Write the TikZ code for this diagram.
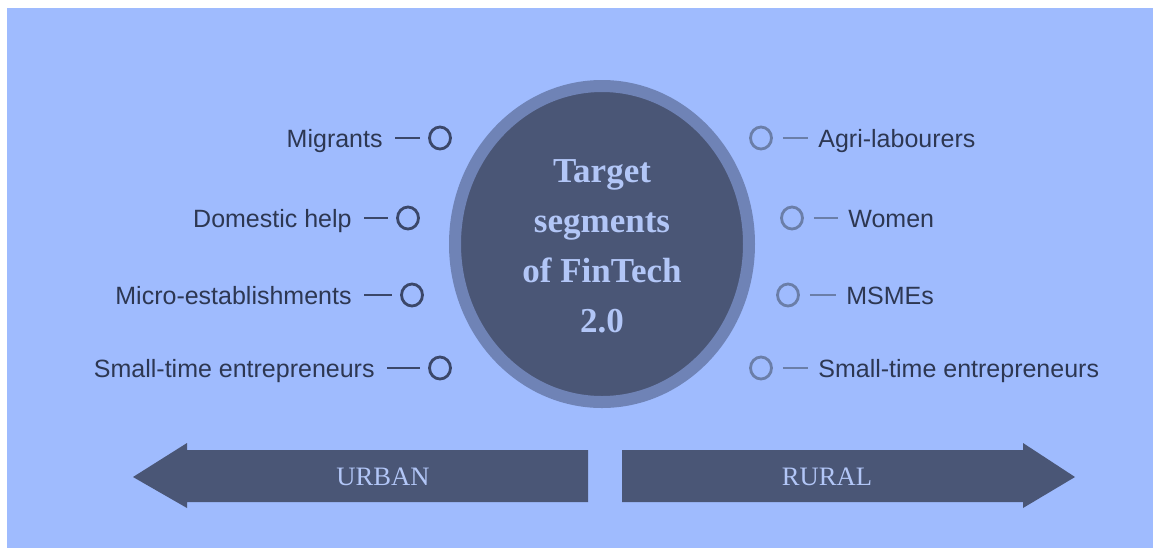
\documentclass[tikz,border=0pt]{standalone}
\usepackage{fontspec}
\setmainfont{Liberation Serif}
\setsansfont{Liberation Sans}
\usepackage{xcolor}
\usepackage{tikz}
\definecolor{bgblue}{HTML}{9FBBFE}
\definecolor{navy}{HTML}{4A5676}
\definecolor{ringblue}{HTML}{6F83B6}
\definecolor{paleblue}{HTML}{B2C6F7}
\definecolor{inkblue}{HTML}{2D3752}
\definecolor{darko}{HTML}{3B4769}
\definecolor{greyo}{HTML}{6B7EA8}
\tikzset{
  lab/.style={inner sep=0pt, text height=9pt, text depth=0pt, text=inkblue,
    font=\sffamily\fontsize{12.5}{15}\selectfont},
  ringo/.style={draw=#1, ellipse, line width=1.4pt, inner sep=0pt,
    minimum width=10.5pt, minimum height=11pt},
  dashl/.style={draw=#1, line width=0.75pt, shorten <=6pt, shorten >=4pt},
  dashr/.style={draw=#1, line width=0.75pt, shorten <=5pt, shorten >=5pt},
  arrtxt/.style={text=paleblue, font=\fontsize{13.3}{16}\selectfont}
}
\usetikzlibrary{shapes.geometric}

\begin{document}
\begin{tikzpicture}[x=0.5pt,y=-0.5pt]
\useasboundingbox (0,0) rectangle (1153,548);
% 背景
\fill[bgblue] (7,8) rectangle (1153,548);
% 中心圆
\node[ellipse, fill=navy, draw=ringblue, line width=6pt,
  minimum width=147pt, minimum height=158pt, inner sep=0pt] (hub) at (602,244) {};
\node[text=paleblue, align=center, font=\bfseries\fontsize{17.5}{25}\selectfont]
  (title) at (602,246) {Target\\segments\\of FinTech\\2.0};
% 左侧节点
\node[lab, anchor=east] (lm) at (383,138) {Migrants};
\node[lab, anchor=east] (ld) at (352,218) {Domestic help};
\node[lab, anchor=east] (le) at (352,295) {Micro-establishments};
\node[lab, anchor=east] (ls) at (375,368) {Small-time entrepreneurs};
\node[ringo=darko] (om) at (440,138) {};
\node[ringo=darko] (od) at (408,218) {};
\node[ringo=darko] (oe) at (412,295) {};
\node[ringo=darko] (os) at (440,368) {};
% 右侧节点
\node[lab, anchor=west] (ra) at (818,138) {Agri-labourers};
\node[lab, anchor=west] (rw) at (848,218) {Women};
\node[lab, anchor=west] (rm) at (846,295) {MSMEs};
\node[lab, anchor=west] (rs) at (818,368) {Small-time entrepreneurs};
\node[ringo=greyo] (pa) at (761,138) {};
\node[ringo=greyo] (pw) at (792,218) {};
\node[ringo=greyo] (pm) at (788,295) {};
\node[ringo=greyo] (ps) at (761,368) {};
% 连线
\draw[dashl=darko] (lm)--(om);
\draw[dashl=darko] (ld)--(od);
\draw[dashl=darko] (le)--(oe);
\draw[dashl=darko] (ls)--(os);
\draw[dashr=greyo] (pa)--(ra);
\draw[dashr=greyo] (pw)--(rw);
\draw[dashr=greyo] (pm)--(rm);
\draw[dashr=greyo] (ps)--(rs);
% 箭头
\fill[navy] (588,450)--(187,450)--(187,443)--(133,477)--(187,508)--(187,502)--(588,502)--cycle;
\fill[navy] (622,450)--(1023,450)--(1023,443)--(1075,477)--(1023,508)--(1023,502)--(622,502)--cycle;
\node[arrtxt] (urban) at (383,477) {URBAN};
\node[arrtxt] (rural) at (827,477) {RURAL};
\end{tikzpicture}
\end{document}
